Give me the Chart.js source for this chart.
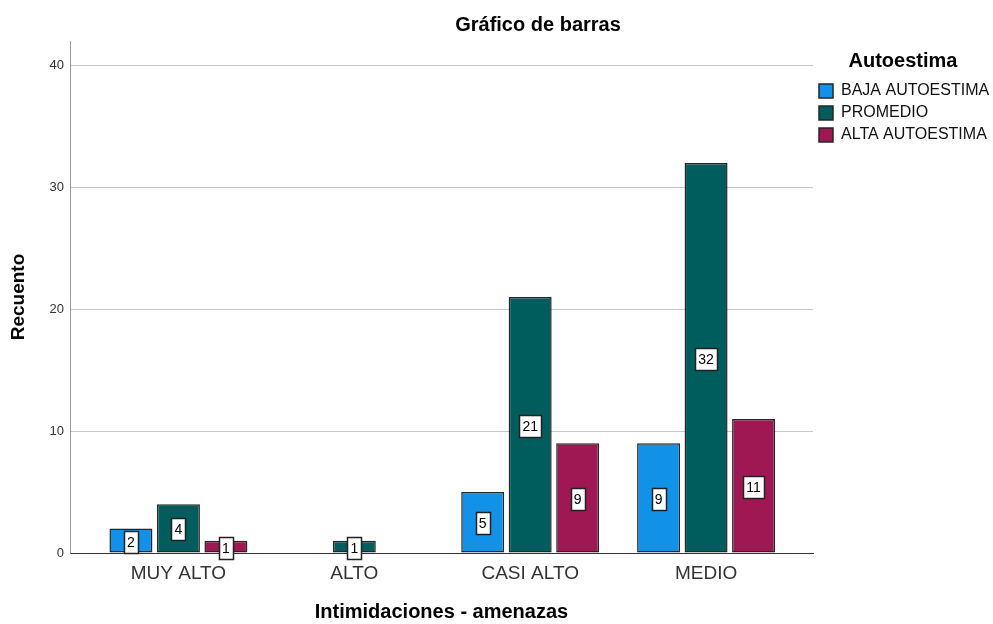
<!DOCTYPE html>
<html>
<head>
<meta charset="utf-8">
<script src="https://cdn.jsdelivr.net/npm/chart.js@4/dist/chart.umd.min.js"></script>
<style>
    body { margin: 0; background: #fff; }
    #wrap { position: relative; width: 993px; height: 624px; }
    #chartTitle {
        position: absolute; top: 12px; left: 83px; width: 910px;
        text-align: center; font: bold 20px 'Liberation Sans', Arial, sans-serif;
        line-height: 24px; color: #000;
    }
</style>
</head>
<body>
<div id="wrap">
    <div id="chartTitle">Gráfico de barras</div>
    <canvas id="barChart" width="993" height="624"></canvas>
</div>
<script>
// ===== DATA =====
var categories = ['MUY ALTO', 'ALTO', 'CASI ALTO', 'MEDIO'];
var bajaAutoestima = [2, null, 5, 9];
var promedio = [4, 1, 21, 32];
var altaAutoestima = [1, null, 9, 11];
var yTicks = [0, 10, 20, 30, 40];

var FONT = "'Liberation Sans', Arial, sans-serif";

function toPoints(values) {
    var pts = [];
    for (var i = 0; i < values.length; i++) {
        pts.push({ x: i, y: values[i] });
    }
    return pts;
}

// ===== BOXED VALUE LABELS (SPSS style) =====
var boxLabels = {
    id: 'boxLabels',
    afterDatasetsDraw: function(chart) {
        var ctx = chart.ctx;
        ctx.save();
        ctx.font = '14px ' + FONT;
        ctx.textAlign = 'center';
        ctx.textBaseline = 'middle';
        chart.data.datasets.forEach(function(ds, di) {
            var meta = chart.getDatasetMeta(di);
            meta.data.forEach(function(bar, i) {
                var v = ds.data[i].y;
                if (v === null || v === undefined) return;
                var txt = String(v);
                var w = Math.round(ctx.measureText(txt).width + 6);
                var h = 22;
                var left = Math.round(bar.x - w / 2) + 0.5;
                var top = Math.round((bar.y + bar.base) / 2 - h / 2 + 1) + 0.5;
                ctx.fillStyle = '#fff';
                ctx.strokeStyle = '#222';
                ctx.lineWidth = 1.5;
                ctx.fillRect(left, top, w, h);
                ctx.strokeRect(left, top, w, h);
                ctx.fillStyle = '#000';
                ctx.fillText(txt, bar.x, top + h / 2 + 1);
            });
        });
        ctx.restore();
    }
};

// ===== CHART =====
var ctx = document.getElementById('barChart').getContext('2d');
window.myChart = new Chart(ctx, {
    type: 'bar',
    data: {
        datasets: [{
            label: 'BAJA AUTOESTIMA',
            data: toPoints(bajaAutoestima),
            backgroundColor: '#1192e8'
        }, {
            label: 'PROMEDIO',
            data: toPoints(promedio),
            backgroundColor: '#005d5d'
        }, {
            label: 'ALTA AUTOESTIMA',
            data: toPoints(altaAutoestima),
            backgroundColor: '#9f1853'
        }]
    },
    options: {
        responsive: false,
        animation: false,
        layout: { padding: { top: 41, left: 0, right: 0, bottom: 0 } },
        categoryPercentage: 0.81,
        barPercentage: 0.905,
        datasets: {
            bar: { borderColor: '#262626', borderWidth: 1.5, borderSkipped: false }
        },
        plugins: {
            tooltip: { enabled: false },
            legend: {
                position: 'right',
                align: 'start',
                maxWidth: 180,
                title: {
                    display: true,
                    text: 'Autoestima',
                    color: '#000',
                    font: { family: FONT, size: 20, weight: 'bold' },
                    padding: { top: 10, bottom: 2 }
                },
                labels: {
                    boxWidth: 14,
                    boxHeight: 14,
                    padding: 6,
                    color: '#111',
                    font: { family: FONT, size: 16 }
                }
            }
        },
        scales: {
            x: {
                type: 'linear',
                offset: false,
                min: -0.6165,
                max: 3.608,
                afterBuildTicks: function(scale) {
                    scale.ticks = categories.map(function(c, i) { return { value: i }; });
                },
                afterFit: function(scale) { scale.height = 71; },
                grid: { display: false, drawTicks: false, offset: false },
                border: { display: true, color: '#333', width: 1 },
                ticks: {
                    padding: 9,
                    color: '#333',
                    font: { family: FONT, size: 19 },
                    callback: function(value) { return categories[value]; }
                },
                title: {
                    display: true,
                    text: 'Intimidaciones - amenazas',
                    color: '#000',
                    font: { family: FONT, size: 20, weight: 'bold' },
                    padding: { top: 0, bottom: 0 }
                }
            },
            y: {
                min: 0,
                max: 42,
                afterBuildTicks: function(scale) {
                    scale.ticks = yTicks.map(function(t) { return { value: t }; });
                },
                afterFit: function(scale) { scale.width = 70; },
                grid: {
                    drawTicks: false,
                    color: function(c) { return c.tick && c.tick.value === 0 ? 'rgba(0,0,0,0)' : '#c8c8c8'; }
                },
                border: { display: true, color: '#999', width: 1 },
                ticks: {
                    padding: 6,
                    color: '#333',
                    font: { family: FONT, size: 13 }
                },
                title: {
                    display: true,
                    text: 'Recuento',
                    color: '#000',
                    font: { family: FONT, size: 19, weight: 'bold' },
                    padding: { top: 7, bottom: 0 }
                }
            }
        }
    },
    plugins: [boxLabels]
});
</script>
</body>
</html>
